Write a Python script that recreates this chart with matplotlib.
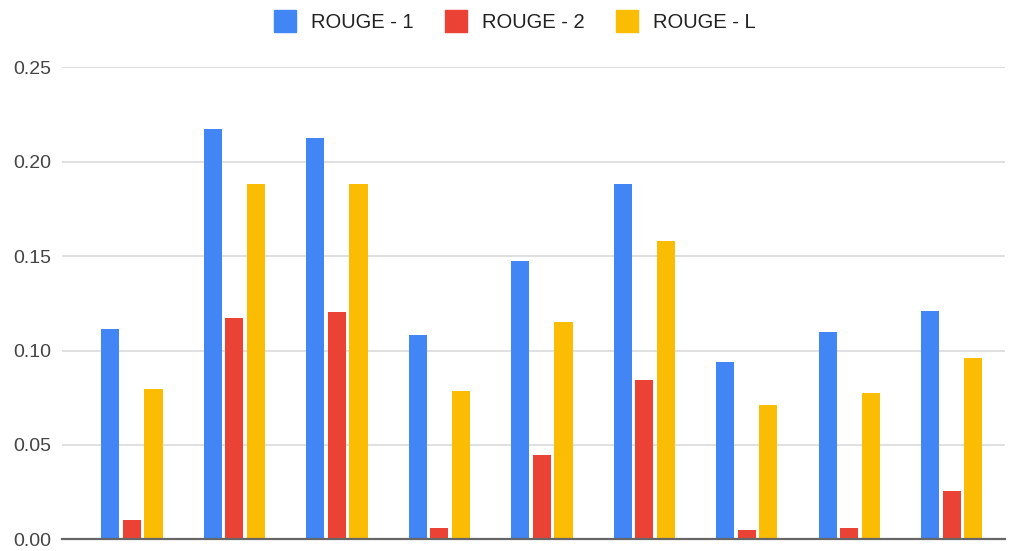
import matplotlib.pyplot as plt
import numpy as np
from matplotlib.lines import Line2D

plt.rcParams['font.family'] = ['Liberation Sans', 'DejaVu Sans']

# scores per sample
rouge_1 = [0.1114, 0.2172, 0.2126, 0.1084, 0.1474, 0.1884, 0.0937, 0.1100, 0.1210]
rouge_2 = [0.0102, 0.1172, 0.1202, 0.0058, 0.0447, 0.0842, 0.0049, 0.0058, 0.0255]
rouge_l = [0.0795, 0.1883, 0.1884, 0.0784, 0.1153, 0.1579, 0.0710, 0.0774, 0.0963]
labels = ['ROUGE - 1', 'ROUGE - 2', 'ROUGE - L']
colors = ['#4285F4', '#EA4335', '#FBBC04']

fig = plt.figure(figsize=(10.11, 5.51), dpi=100)
ax = fig.add_axes([0.0613, 0.0210, 0.9327, 0.8570])

x = np.arange(len(rouge_1))
w = 0.176
step = 0.21
for i, (vals, c) in enumerate(zip([rouge_1, rouge_2, rouge_l], colors)):
    ax.bar(x + (i - 1) * step, vals, width=w, color=c, zorder=3)

ax.set_xlim(-0.683, 8.517)
ax.set_ylim(0, 0.25)
ax.set_yticks(np.arange(0, 0.26, 0.05))
ax.set_yticklabels(['%.2f' % v for v in np.arange(0, 0.26, 0.05)])
ax.set_xticks([])
ax.tick_params(axis='y', length=0, pad=8, labelsize=14, labelcolor='#444444')
ax.grid(axis='y', color='#dddddd', linewidth=1.3, zorder=0)
for s in ['left', 'right', 'top']:
    ax.spines[s].set_visible(False)
ax.spines['bottom'].set_color('#666666')
ax.spines['bottom'].set_linewidth(1.6)
ax.spines['bottom'].set_zorder(4)

handles = [Line2D([], [], marker='s', linestyle='none', markersize=16,
                  markerfacecolor=c, markeredgecolor=c) for c in colors]
fig.legend(handles, labels, loc='center', bbox_to_anchor=(0.509, 0.959),
           ncol=3, frameon=False, fontsize=14.5, handlelength=1.1,
           handletextpad=0.75, columnspacing=1.55, labelcolor='#222222')

plt.savefig('out.png')
